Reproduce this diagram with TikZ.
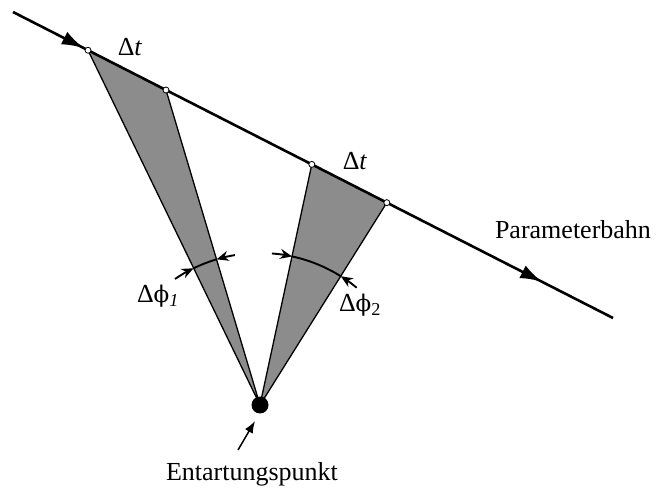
\documentclass[tikz,border=0pt]{standalone}
\usepackage{fontspec}
\setmainfont{Liberation Serif}
\newfontfamily\dvserif{DejaVu Serif}
\usetikzlibrary{calc,arrows.meta,decorations.markings}
\begin{document}
\begin{tikzpicture}[x=1pt,y=1pt,
  bahn/.style={line width=2.6pt,
    postaction={decorate},
    decoration={markings,
      mark=at position 0.118 with {\arrow{Latex[length=22pt,width=14pt]}},
      mark=at position 0.882 with {\arrow{Latex[length=22pt,width=14pt]}}}},
  wedge/.style={draw=black,line width=1.3pt,fill=black!45,line join=round},
  knot/.style={circle,draw=black,fill=white,line width=0.8pt,inner sep=0pt,minimum size=6pt},
  lbl/.style={font=\fontsize{26}{30}\selectfont,inner sep=0pt},
  dimarc/.style={line width=1.9pt},
  dimtip/.style={line width=1.9pt,-{Stealth[length=12pt,width=10pt]}}
]
\useasboundingbox (0,0) rectangle (656,493);
\coordinate (S) at (13,481);
\coordinate (E) at (613,175);
\coordinate (C) at (260,88);
\coordinate (P1) at ($(S)!0.125!(E)$);
\coordinate (P2) at ($(S)!0.255!(E)$);
\coordinate (P3) at ($(S)!0.498!(E)$);
\coordinate (P4) at ($(S)!0.623!(E)$);
% wedges
\draw[wedge] (C) -- (P1) -- (P2) -- cycle;
\draw[wedge] (C) -- (P3) -- (P4) -- cycle;
% trajectory
\draw[bahn] (S) -- (E);
\node[knot] (k1) at (P1) {};
\node[knot] (k2) at (P2) {};
\node[knot] (k3) at (P3) {};
\node[knot] (k4) at (P4) {};
% singular point
\fill (C) circle[radius=8.5pt];
% angle marks
\draw[dimarc] ($(C)+(115.9:152)$) arc[start angle=115.9,end angle=106.6,radius=152];
\draw[dimtip] ($(C)+(124:152)$) arc[start angle=124,end angle=115.9,radius=152];
\draw[dimtip] ($(C)+(99.5:152)$) arc[start angle=99.5,end angle=106.6,radius=152];
\draw[dimarc] ($(C)+(77.8:152)$) arc[start angle=77.8,end angle=57.9,radius=152];
\draw[dimtip] ($(C)+(85.5:152)$) arc[start angle=85.5,end angle=77.8,radius=152];
\draw[dimtip] ($(C)+(50.5:152)$) arc[start angle=50.5,end angle=57.9,radius=152];
% labels
\node[lbl] (dt1) at (130,446) {Δ\textit{t}};
\node[lbl] (dt2) at (355,332) {Δ\textit{t}};
\node[lbl] (dp1) at (158,197) {Δ{\dvserif\fontsize{23}{28}\selectfont ϕ}\textsubscript{\textit{1}}};
\node[lbl] (dp2) at (360,188) {Δ{\dvserif\fontsize{23}{28}\selectfont ϕ}\textsubscript{2}};
\node[lbl] (bahn) at (573,263) {Parameterbahn};
\node[lbl] (ep) at (252,19) {Entartungspunkt};
\coordinate (ea) at (238,43);
\coordinate (eb) at (255,72);
\draw[line width=1.5pt,-{Latex[length=12pt,width=9pt]}] (ea) -- (eb);
\end{tikzpicture}
\end{document}
